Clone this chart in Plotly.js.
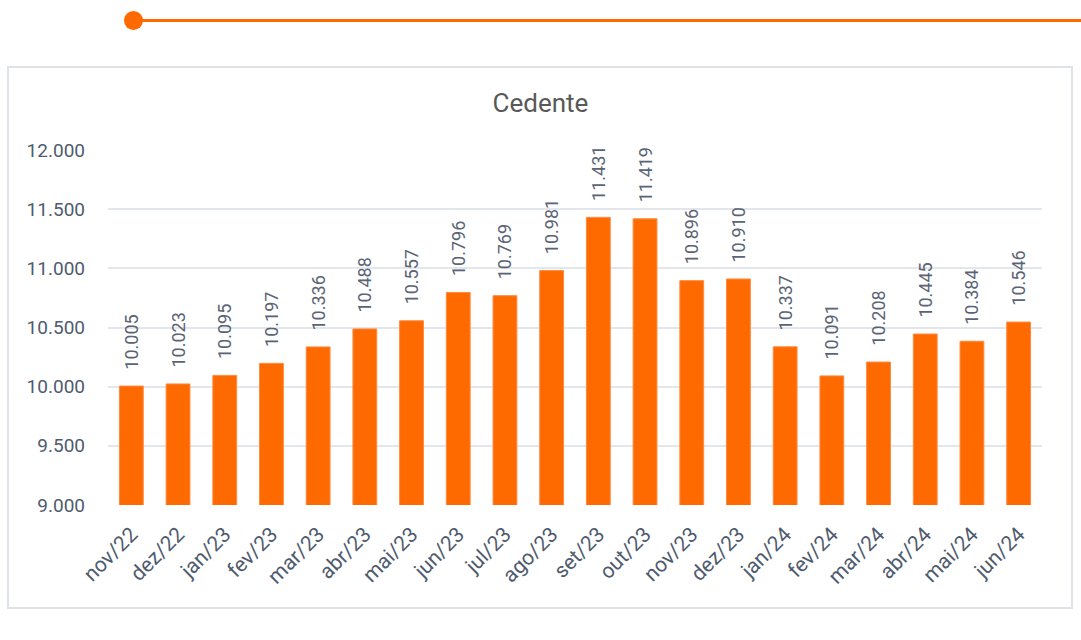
<!DOCTYPE html>
<html><head><meta charset="utf-8">
<script src="https://cdn.plot.ly/plotly-3.0.1.min.js"></script>
<style>
html,body{margin:0;padding:0;background:#fff;}
#wrap{position:relative;width:1081px;height:640px;overflow:hidden;}
#box{position:absolute;left:7px;top:66px;width:1062px;height:539px;border:2px solid #dfe3e8;}
#line{position:absolute;left:133px;top:19px;width:960px;height:3px;background:#ff6a00;}
#dot{position:absolute;left:124px;top:11px;width:19px;height:19px;border-radius:50%;background:#ff6a00;}
#chart{position:absolute;left:0;top:0;width:1081px;height:640px;}
</style></head>
<body><div id="wrap"><div id="box"></div><div id="line"></div><div id="dot"></div><div id="chart"></div></div>
<script>
const categories = ["nov/22","dez/22","jan/23","fev/23","mar/23","abr/23","mai/23","jun/23","jul/23","ago/23","set/23","out/23","nov/23","dez/23","jan/24","fev/24","mar/24","abr/24","mai/24","jun/24"];
const values = [10005,10023,10095,10197,10336,10488,10557,10796,10769,10981,11431,11419,10896,10910,10337,10091,10208,10445,10384,10546];
const yTicks = [9000,9500,10000,10500,11000,11500,12000];

const font = "Roboto, 'Open Sans', sans-serif";
const trace = {
  type:'bar', x:categories, y:values,
  marker:{color:'#ff6a00', line:{color:'#ff8a40', width:1}},
  texttemplate:'\u00a0\u00a0\u00a0%{y:,.0f}', textposition:'outside', textangle:-90,
  constraintext:'none',
  textfont:{family:font, size:18, color:'#5a6475'},
  cliponaxis:false, hoverinfo:'none'
};
const layout = {
  width:1081, height:640,
  paper_bgcolor:'rgba(0,0,0,0)', plot_bgcolor:'rgba(0,0,0,0)',
  margin:{l:108, r:39, t:150, b:135},
  separators:',.',
  bargap:0.49,
  showlegend:false,
  title:{text:'Cedente', x:0.5, xanchor:'center', y:1-103/640, yanchor:'middle',
         font:{family:font, size:26, color:'#595959'}},
  xaxis:{type:'category', tickangle:-45, tickfont:{family:font, size:21, color:'#4f5b6e'},
         showgrid:false, zeroline:false, showline:false, ticks:'', automargin:false,
         ticklabelstandoff:12},
  yaxis:{range:[9000,12000], tickvals:yTicks, tickformat:',.0f',
         tickfont:{family:font, size:19, color:'#4f5b6e'},
         showgrid:true, gridcolor:'#e3e6ea', gridwidth:2, zeroline:false, showline:false,
         ticks:'', ticklabelstandoff:22, automargin:false}
};
Plotly.newPlot('chart',[trace],layout,{displayModeBar:false, staticPlot:true});
</script></body></html>
